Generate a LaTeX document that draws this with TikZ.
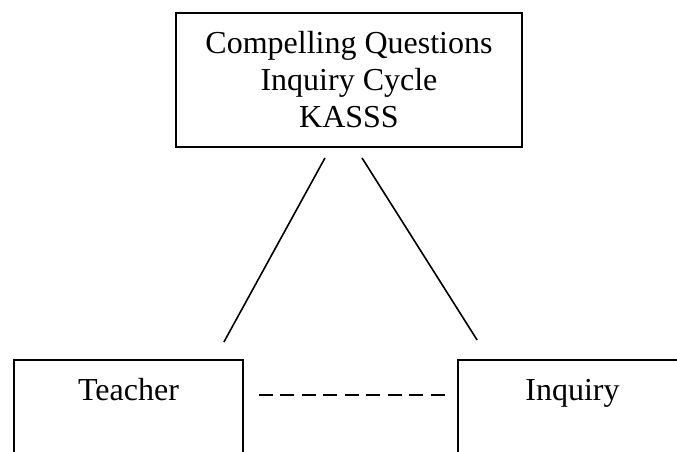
\documentclass[tikz,border=0pt]{standalone}
\usepackage{fontspec}
\setmainfont{Liberation Serif}
\usetikzlibrary{calc}

\begin{document}
\begin{tikzpicture}[x=1pt, y=-1pt, font=\fontsize{32}{37}\selectfont,
    frame/.style={draw, line width=1.8pt},
    box/.style={frame, anchor=north, minimum width=229pt, text height=22pt, text depth=80pt, inner ysep=19pt},
    link/.style={line width=1.6pt}]
    \useasboundingbox (0,0) rectangle (677,451);
    \clip (0,0) rectangle (677,451);
    \node[frame, minimum width=346pt, minimum height=134pt, align=center] (focus) at (349,80) {Compelling Questions\\Inquiry Cycle\\KASSS};
    \node[box] (teacher) at (128.5,359) {Teacher};
    \node[box] (inquiry) at (572.5,359) {Inquiry};
    % ends of the links
    \coordinate (ft) at ($(focus.south)+(-24,10)$);
    \coordinate (fi) at ($(focus.south)+(13,10)$);
    \coordinate (tt) at ($(teacher.north east)+(-20,-17)$);
    \coordinate (ii) at ($(inquiry.north west)+(20,-19)$);
    \coordinate (td) at ($(teacher.north east)+(15,36)$);
    \coordinate (id) at ($(inquiry.north west)+(-8,36)$);
    \draw[link] (ft) -- (tt);
    \draw[link] (fi) -- (ii);
    \draw[link, line width=1.9pt, dash pattern=on 14pt off 7.5pt] (td) -- (id);
\end{tikzpicture}
\end{document}
